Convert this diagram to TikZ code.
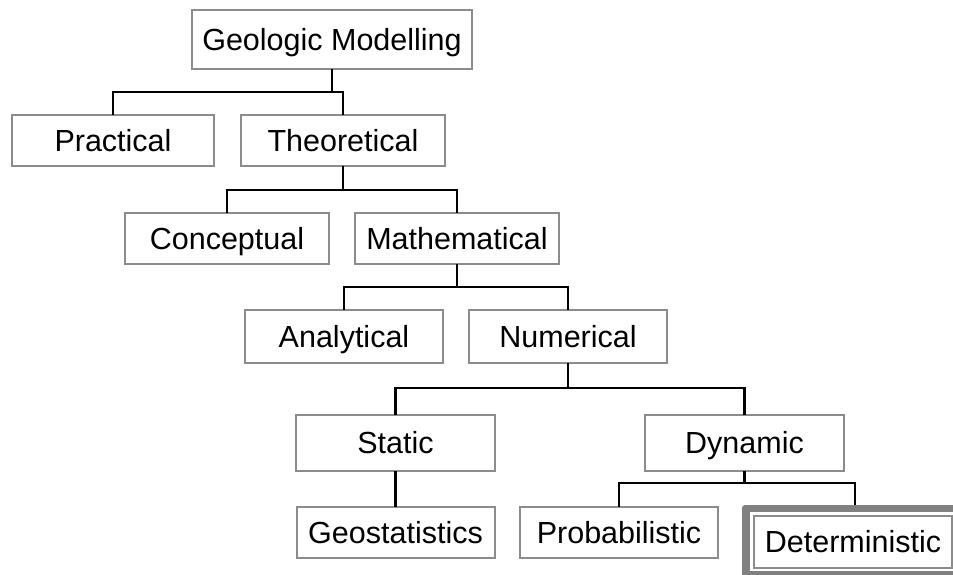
\documentclass[tikz,border=0pt]{standalone}
\usepackage{fontspec}
\setmainfont{Liberation Sans}
\definecolor{boxgray}{RGB}{140,140,140}
\definecolor{framegray}{RGB}{128,128,128}
\begin{document}
\begin{tikzpicture}[x=1pt,y=-1pt,
  box/.style={draw=boxgray,line width=2pt,fill=white,inner sep=0pt,
    minimum width=#1,font=\fontsize{30.5}{36}\selectfont,text=black,
    text height=21.8pt,text depth=0pt},
  box/.default=202pt,
  conn/.style={draw=black,line width=2.5pt,line cap=rect}]
\useasboundingbox (0,0) rectangle (953,574);
\clip (0,0) rectangle (953,574);
\fill[white] (0,0) rectangle (953,574);
% Deterministic frame
\fill[framegray,rounded corners=3pt] (742,505) rectangle (975,600);
\fill[white] (750,512) rectangle (960,571);
% nodes
\node[box=280pt,minimum height=59pt] (GM) at (332,39.5) {Geologic Modelling};
\node[box,minimum height=51pt] (Prac) at (113,140.5) {Practical};
\node[box=204pt,minimum height=51pt] (Theo) at (343,140.5) {Theoretical};
\node[box=204pt,minimum height=51pt] (Conc) at (227,238.5) {Conceptual};
\node[box=204pt,minimum height=51pt] (Math) at (457,238.5) {Mathematical};
\node[box=198pt,minimum height=53pt] (Anal) at (344,336.5) {Analytical};
\node[box=198pt,minimum height=53pt] (Num) at (568,336.5) {Numerical};
\node[box=199pt,minimum height=56pt] (Stat) at (395.5,443) {Static};
\node[box=199pt,minimum height=56pt] (Dyn) at (744.5,443) {Dynamic};
\node[box=198pt,minimum height=51pt] (Geo) at (395.5,532.5) {Geostatistics};
\node[box=198pt,minimum height=51pt] (Prob) at (619,532.5) {Probabilistic};
\node[box=198pt,minimum height=52pt] (Det) at (853,542) {Deterministic};
% junctions
\coordinate (j1) at (332,92);
\coordinate (j2) at (343,190);
\coordinate (j3) at (457,287);
\coordinate (j4) at (568,388);
\coordinate (j5) at (744.5,483);
\coordinate (detin) at (855,504);
% connectors
\draw[conn] (GM.south) -- (j1);
\draw[conn] (Prac.north) |- (j1) -| (Theo.north);
\draw[conn] (Theo.south) -- (j2);
\draw[conn] (Conc.north) |- (j2) -| (Math.north);
\draw[conn] (Math.south) -- (j3);
\draw[conn] (Anal.north) |- (j3) -| (Num.north);
\draw[conn] (Num.south) -- (j4);
\draw[conn] (Stat.north) |- (j4) -| (Dyn.north);
\draw[conn] (Stat.south) -- (Geo.north);
\draw[conn] (Dyn.south) -- (j5);
\draw[conn] (Prob.north) |- (j5) -| (detin);
\end{tikzpicture}
\end{document}
